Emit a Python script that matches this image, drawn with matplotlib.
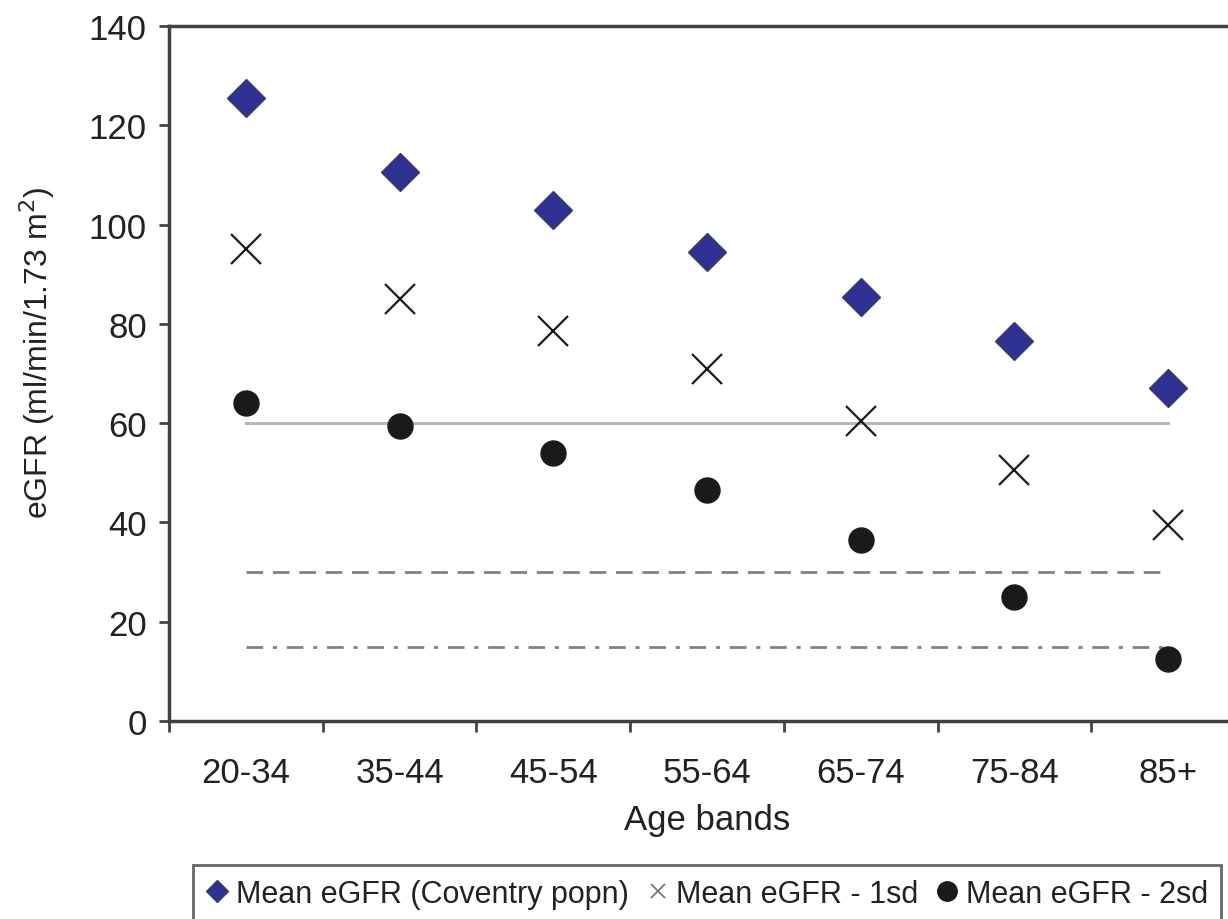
import matplotlib
matplotlib.use("Agg")
import matplotlib.pyplot as plt
from matplotlib.lines import Line2D

plt.rcParams['font.family'] = ['Liberation Sans', 'DejaVu Sans']

age_bands = ["20-34", "35-44", "45-54", "55-64", "65-74", "75-84", "85+"]
mean_egfr = [125.5, 110.5, 103.0, 94.5, 85.5, 76.5, 67.0]
mean_minus_1sd = [95.0, 85.0, 78.5, 71.0, 60.5, 50.5, 39.5]
mean_minus_2sd = [64.0, 59.5, 54.0, 46.5, 36.5, 25.0, 12.5]
ref_levels = [60, 30, 15]

fig = plt.figure(figsize=(12.28, 9.2), dpi=100)
ax = fig.add_axes([169/1228, 198/920, 1076/1228, 695/920])

x = list(range(len(age_bands)))

# reference lines from first to last band
ax.plot([x[0], x[-1]], [ref_levels[0]] * 2, color='#b4b9bd', lw=2.2, zorder=1)
ax.plot([x[0], x[-1]], [ref_levels[1]] * 2, color='#7d8388', lw=2, ls=(0, (6, 3.5)), zorder=1)
ax.plot([x[0], x[-1]], [ref_levels[2]] * 2, color='#7d8388', lw=2, ls=(0, (6, 3.5, 1.5, 3.5)), zorder=1)

ax.plot(x, mean_egfr, ls='none', marker='D', ms=19, mfc='#2e3192', mec='#3a3f5a', mew=1, zorder=3)
ax.plot(x, mean_minus_1sd, ls='none', marker='x', ms=21, mec='#1a1a1a', mew=1.6, zorder=3)
ax.plot(x, mean_minus_2sd, ls='none', marker='o', ms=18, mfc='#1a1a1a', mec='#1a1a1a', zorder=3)

ax.set_xlim(-0.5, len(age_bands) - 0.5)
ax.set_ylim(0, 140)
ax.set_yticks(range(0, 141, 20))
ax.set_xticks(x)
ax.set_xticklabels(age_bands)
ax.set_xticks([i - 0.5 for i in range(len(age_bands) + 1)], minor=True)
ax.tick_params(axis='x', which='major', length=0, pad=25, labelsize=25, colors='#222222')
ax.tick_params(axis='x', which='minor', length=8, width=2, color='#444444', direction='out')
ax.tick_params(axis='y', length=7, width=2, color='#444444', direction='out', labelsize=25,
               labelcolor='#222222', pad=9)

for side in ['left', 'bottom', 'top']:
    ax.spines[side].set_linewidth(2.5)
    ax.spines[side].set_color('#3c4242')
ax.spines['right'].set_visible(False)

ax.set_xlabel("Age bands", fontsize=25, color='#222222', labelpad=10)
ax.set_ylabel("eGFR (ml/min/1.73 m$^2$)", fontsize=23, color='#222222')
ax.yaxis.set_label_coords(-0.104, 0.531)

handles = [
    Line2D([], [], ls='none', marker='D', ms=11, mfc='#2e3192', mec='#3a3f5a'),
    Line2D([], [], ls='none', marker='x', ms=10, mec='#777777', mew=1.3),
    Line2D([], [], ls='none', marker='o', ms=14, mfc='#1a1a1a', mec='#1a1a1a'),
]
labels = ["Mean eGFR (Coventry popn)", "Mean eGFR - 1sd", "Mean eGFR - 2sd"]
leg = fig.legend(handles, labels, ncol=3, loc='upper left', bbox_to_anchor=(193/1228, 54/920),
                 fontsize=22, frameon=True, fancybox=False, edgecolor='#3c4242',
                 handlelength=0.7, handletextpad=0.25, columnspacing=0.6, borderpad=0.45,
                 borderaxespad=0, labelcolor='#222222')
leg.get_frame().set_linewidth(2)

fig.savefig("out.png", dpi=100)
